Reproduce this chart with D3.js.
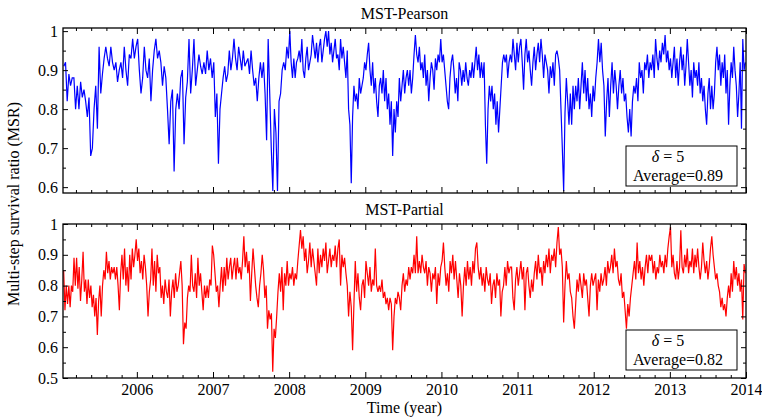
<!DOCTYPE html>
<html>
<head>
<meta charset="utf-8">
<script src="https://cdn.jsdelivr.net/npm/d3@7"></script>
<style>
  body { margin: 0; background: #fff; }
</style>
</head>
<body>
<svg id="chart"></svg>
<script>
// 1. Data (one array per calendar year)
const years = [2005, 2006, 2007, 2008, 2009, 2010, 2011, 2012, 2013];
const xStart = 2005.03;
const xEnd = 2014;
const yearTicks = [2006, 2007, 2008, 2009, 2010, 2011, 2012, 2013, 2014];

// 1.1. MST-Pearson
const pearson2005 = [0.91,0.92,0.82,0.89,0.86,0.88,0.88,0.80,0.86,0.80,0.87,0.83,0.85,0.82,0.78,0.83,0.68,0.70,0.80,0.86,0.75,0.96,0.84,0.89,0.93,0.96,0.93,0.91,0.96,0.92,0.90,0.92,0.87,0.90,0.92,0.88,0.96,0.90,0.86,0.94,0.93,0.98,0.93,0.96];
const pearson2006 = [0.98,0.90,0.84,0.88,0.96,0.90,0.88,0.93,0.82,0.90,0.95,0.98,0.93,0.95,0.92,0.86,0.91,0.88,0.80,0.71,0.82,0.85,0.64,0.80,0.84,0.80,0.88,0.90,0.71,0.83,0.87,0.98,0.84,0.90,0.98,0.86,0.90,0.94,0.91,0.89,0.92,0.89,0.95,0.90,0.93,0.88];
const pearson2007 = [0.92,0.78,0.84,0.66,0.80,0.84,0.88,0.91,0.87,0.89,0.95,0.90,0.93,0.98,0.93,0.90,0.96,0.93,0.90,0.95,0.91,0.92,0.93,0.89,0.95,0.90,0.86,0.88,0.82,0.88,0.92,0.88,0.92,0.84,0.72,0.98,0.84,0.70,0.59,0.80,0.74,0.59,0.82,0.84,0.90,0.92,0.90,0.96,0.93];
const pearson2008 = [1.00,0.92,0.88,0.93,0.88,0.92,0.93,0.95,0.92,0.98,0.90,0.88,0.93,0.96,0.90,0.92,0.94,0.99,0.96,0.93,0.97,0.92,0.96,0.98,0.92,0.95,0.98,1.00,0.96,1.00,0.94,0.97,0.92,0.95,0.98,0.93,0.94,0.90,0.98,0.93,0.96,0.92,0.88,0.95,0.80,0.76,0.61,0.78,0.86,0.82,0.84,0.80,0.88,0.84,0.86,0.88,0.92];
const pearson2009 = [0.90,0.94,0.97,0.90,0.86,0.92,0.84,0.88,0.82,0.78,0.86,0.88,0.84,0.90,0.82,0.88,0.80,0.84,0.76,0.82,0.68,0.80,0.74,0.82,0.78,0.88,0.82,0.86,0.90,0.84,0.88,0.90,0.86,0.90,0.84,0.88,0.94,0.99,0.94,0.92,0.96,0.90,0.92,0.88,0.94,0.86,0.90,0.82,0.88,0.92,0.90,0.85,0.93,0.90,0.94,0.92,0.98];
const pearson2010 = [0.92,0.94,0.90,0.86,0.82,0.80,0.88,0.92,0.94,0.90,0.84,0.88,0.82,0.92,0.90,0.86,0.90,0.87,0.92,0.88,0.86,0.90,0.88,0.92,0.88,0.92,0.96,0.90,0.94,0.88,0.92,0.88,0.92,0.76,0.66,0.80,0.86,0.82,0.86,0.80,0.84,0.76,0.82,0.74,0.80,0.86,0.92,0.94,0.92,0.94,0.88,0.92,0.94,0.92,0.98,0.94,0.90,0.97];
const pearson2011 = [0.92,0.96,0.98,0.92,0.85,0.94,0.98,0.92,0.95,0.90,0.86,0.92,0.96,0.90,0.94,0.97,0.92,0.98,0.94,0.88,0.94,0.92,0.90,0.84,0.91,0.88,0.92,0.86,0.94,0.95,0.93,0.90,0.80,0.70,0.59,0.79,0.88,0.82,0.76,0.84,0.76,0.86,0.80,0.86,0.82,0.88,0.80,0.86,0.92,0.84,0.90,0.82,0.88,0.80,0.84,0.78,0.86];
const pearson2012 = [0.82,0.88,0.92,0.98,0.92,0.97,0.90,0.86,0.73,0.82,0.88,0.78,0.86,0.92,0.84,0.90,0.86,0.80,0.86,0.90,0.84,0.88,0.82,0.84,0.78,0.74,0.80,0.73,0.82,0.86,0.84,0.88,0.82,0.92,0.88,0.90,0.84,0.92,0.90,0.94,0.88,0.92,0.90,0.94,0.88,0.98,0.93,0.90,0.95,0.92,0.97,0.94,0.99,0.92,0.95,0.90];
const pearson2013 = [0.93,0.88,0.92,0.96,0.88,0.93,0.86,0.92,0.96,0.90,0.94,0.86,0.91,0.98,0.92,0.86,0.90,0.83,0.92,0.88,0.90,0.86,0.92,0.84,0.88,0.82,0.86,0.80,0.76,0.84,0.88,0.80,0.86,0.80,0.84,0.92,0.96,0.90,0.94,0.86,0.92,0.88,0.94,0.84,0.90,0.76,0.86,0.92,0.88,0.96,0.90,0.86,0.78,0.84,0.92,0.75,0.98,0.90,0.92];

// 1.2. MST-Partial
const partial2005 = [0.85,0.72,0.80,0.74,0.80,0.73,0.80,0.78,0.89,0.80,0.89,0.79,0.86,0.75,0.82,0.91,0.78,0.82,0.74,0.82,0.76,0.80,0.73,0.77,0.70,0.76,0.64,0.75,0.80,0.70,0.80,0.85,0.82,0.91,0.84,0.88,0.82,0.86,0.84,0.86,0.82,0.86,0.80,0.72,0.84,0.90,0.82,0.92,0.80,0.86,0.78,0.90,0.82,0.92,0.86,0.90,0.95];
const partial2006 = [0.88,0.92,0.84,0.88,0.82,0.90,0.86,0.80,0.70,0.78,0.82,0.92,0.80,0.88,0.78,0.90,0.84,0.86,0.76,0.80,0.74,0.82,0.78,0.76,0.82,0.70,0.78,0.82,0.76,0.84,0.78,0.80,0.84,0.88,0.80,0.61,0.68,0.66,0.76,0.80,0.78,0.90,0.80,0.78,0.84,0.76,0.89,0.80,0.84,0.78,0.72,0.80,0.76,0.80,0.76,0.82,0.80,0.93];
const partial2007 = [0.90,0.84,0.78,0.80,0.73,0.80,0.86,0.78,0.86,0.80,0.89,0.82,0.86,0.89,0.82,0.86,0.89,0.82,0.89,0.84,0.86,0.82,0.88,0.96,0.86,0.91,0.84,0.88,0.75,0.84,0.92,0.86,0.80,0.76,0.73,0.80,0.84,0.90,0.85,0.76,0.80,0.66,0.72,0.69,0.71,0.52,0.66,0.63,0.70,0.78,0.84,0.78,0.86,0.72,0.84,0.80,0.88,0.80];
const partial2008 = [0.84,0.82,0.86,0.80,0.84,0.82,0.88,0.93,0.98,0.92,0.96,0.88,0.92,0.84,0.88,0.94,0.86,0.92,0.88,0.84,0.80,0.92,0.84,0.90,0.86,0.92,0.88,0.94,0.84,0.88,0.92,0.86,0.90,0.88,0.93,0.86,0.92,0.95,0.80,0.90,0.86,0.89,0.84,0.80,0.70,0.78,0.73,0.59,0.74,0.88,0.78,0.84,0.76,0.72,0.80,0.82,0.76];
const partial2009 = [0.88,0.84,0.80,0.86,0.78,0.82,0.80,0.92,0.80,0.78,0.80,0.78,0.82,0.76,0.78,0.74,0.76,0.72,0.76,0.74,0.59,0.70,0.76,0.74,0.78,0.76,0.72,0.80,0.84,0.78,0.82,0.80,0.86,0.82,0.86,0.84,0.90,0.84,0.96,0.84,0.88,0.84,0.90,0.86,0.84,0.88,0.80,0.86,0.84,0.78,0.84,0.82,0.86,0.74,0.84,0.80,0.86];
const partial2010 = [0.88,0.94,0.86,0.80,0.84,0.78,0.88,0.84,0.90,0.82,0.88,0.82,0.76,0.84,0.80,0.70,0.80,0.86,0.80,0.88,0.82,0.86,0.80,0.88,0.84,0.92,0.94,0.86,0.82,0.86,0.80,0.84,0.78,0.86,0.82,0.80,0.84,0.74,0.80,0.82,0.76,0.84,0.80,0.82,0.70,0.78,0.80,0.86,0.80,0.88,0.84,0.86,0.86,0.76,0.72,0.82,0.86];
const partial2011 = [0.80,0.84,0.88,0.82,0.86,0.72,0.84,0.86,0.80,0.76,0.82,0.78,0.84,0.88,0.82,0.90,0.84,0.86,0.80,0.88,0.84,0.90,0.86,0.92,0.84,0.90,0.88,0.92,0.86,0.94,0.99,0.90,0.92,0.86,0.68,0.80,0.88,0.82,0.84,0.78,0.76,0.70,0.66,0.74,0.82,0.78,0.84,0.80,0.76,0.84,0.80,0.82,0.76,0.70,0.80,0.84,0.80];
const partial2012 = [0.82,0.84,0.72,0.82,0.78,0.84,0.80,0.82,0.86,0.80,0.88,0.84,0.86,0.90,0.84,0.92,0.86,0.88,0.82,0.80,0.84,0.76,0.78,0.72,0.66,0.74,0.70,0.76,0.80,0.84,0.88,0.82,0.94,0.84,0.88,0.82,0.86,0.80,0.86,0.90,0.84,0.90,0.88,0.90,0.84,0.88,0.82,0.86,0.84,0.90,0.86,0.88,0.84,0.90,0.86,0.92,0.96];
const partial2013 = [0.99,0.86,0.90,0.84,0.82,0.88,0.82,0.86,0.98,0.86,0.84,0.90,0.86,0.92,0.84,0.88,0.86,0.92,0.84,0.90,0.86,0.92,0.86,0.82,0.86,0.94,0.88,0.84,0.88,0.82,0.86,0.92,0.96,0.90,0.86,0.82,0.84,0.80,0.78,0.73,0.76,0.72,0.74,0.70,0.76,0.80,0.76,0.84,0.78,0.88,0.82,0.86,0.80,0.84,0.78,0.82,0.69,0.87,0.84];

const pearsonByYear = [pearson2005, pearson2006, pearson2007, pearson2008, pearson2009, pearson2010, pearson2011, pearson2012, pearson2013];
const partialByYear = [partial2005, partial2006, partial2007, partial2008, partial2009, partial2010, partial2011, partial2012, partial2013];

// 2. SVG setup
const FONT = "'Liberation Serif', 'DejaVu Serif', serif";
const W = 762, H = 420;
const svg = d3.select("#chart").attr("width", W).attr("height", H);
const left = 63, right = 746;

const x = d3.scaleLinear().domain([xStart, xEnd]).range([left, right]);

// spread each year's values evenly over that year
function toPoints(byYear) {
  const pts = [];
  byYear.forEach((vals, k) => {
    const t0 = Math.max(years[k], xStart);
    const t1 = years[k] + 1;
    vals.forEach((v, i) => {
      pts.push({ t: t0 + ((i + 0.5) / vals.length) * (t1 - t0), v: v });
    });
  });
  return pts;
}

// 3. Panel draw function
function drawPanel(opt) {
  const y = d3.scaleLinear().domain(opt.yDomain).range([opt.bottom, opt.top]);
  const g = svg.append("g");

  g.append("clipPath").attr("id", opt.id + "-clip")
    .append("rect")
    .attr("x", left).attr("y", opt.top)
    .attr("width", right - left).attr("height", opt.bottom - opt.top);

  // 3.1. Series line
  const line = d3.line().x((d) => x(d.t)).y((d) => y(d.v));
  g.append("path")
    .datum(toPoints(opt.data))
    .attr("clip-path", `url(#${opt.id}-clip)`)
    .attr("fill", "none")
    .attr("stroke", opt.color)
    .attr("stroke-width", 1.2)
    .attr("d", line);

  // 3.2. Axes: inward ticks on all four sides
  const minorX = d3.range(2005.2, 2014.01, 0.2).filter((t) => Math.abs(t - Math.round(t)) > 0.01);
  const minorY = d3.range(0.55, 1.0, 0.1).filter((v) => v > opt.yDomain[0]);

  const xb = g.append("g").attr("transform", `translate(0,${opt.bottom})`)
    .call(d3.axisBottom(x).tickValues(yearTicks).tickSizeInner(-6).tickSizeOuter(0).tickPadding(6)
      .tickFormat(opt.showX ? d3.format("d") : () => ""));
  const xbm = g.append("g").attr("transform", `translate(0,${opt.bottom})`)
    .call(d3.axisBottom(x).tickValues(minorX).tickSize(-3).tickFormat(() => ""));
  const xt = g.append("g").attr("transform", `translate(0,${opt.top})`)
    .call(d3.axisTop(x).tickValues(yearTicks).tickSizeInner(-6).tickSizeOuter(0).tickFormat(() => ""));
  const xtm = g.append("g").attr("transform", `translate(0,${opt.top})`)
    .call(d3.axisTop(x).tickValues(minorX).tickSize(-3).tickFormat(() => ""));

  const yl = g.append("g").attr("transform", `translate(${left},0)`)
    .call(d3.axisLeft(y).tickValues(opt.yTicks).tickSizeInner(-5).tickSizeOuter(0).tickPadding(5)
      .tickFormat((d) => (d === 1 ? "1" : d3.format(".1f")(d))));
  const ylm = g.append("g").attr("transform", `translate(${left},0)`)
    .call(d3.axisLeft(y).tickValues(minorY).tickSize(-3).tickFormat(() => ""));
  const yr = g.append("g").attr("transform", `translate(${right},0)`)
    .call(d3.axisRight(y).tickValues(opt.yTicks).tickSizeInner(-5).tickSizeOuter(0).tickFormat(() => ""));
  const yrm = g.append("g").attr("transform", `translate(${right},0)`)
    .call(d3.axisRight(y).tickValues(minorY).tickSize(-3).tickFormat(() => ""));

  [xb, xbm, xt, xtm, yl, ylm, yr, yrm].forEach((a) => {
    a.select(".domain").remove();
    a.selectAll("line").attr("stroke", "#000").attr("stroke-width", 1);
    a.selectAll("text").attr("font-size", 16).style("font-family", FONT).attr("fill", "#000");
  });

  // 3.3. Frame
  g.append("rect")
    .attr("x", left).attr("y", opt.top)
    .attr("width", right - left).attr("height", opt.bottom - opt.top)
    .attr("fill", "none").attr("stroke", "#000").attr("stroke-width", 1.3);

  // 3.4. Title
  g.append("text")
    .attr("x", (left + right) / 2).attr("y", opt.top - 9)
    .attr("text-anchor", "middle").attr("font-size", 16)
    .style("font-family", FONT)
    .text(opt.title);

  // 3.5. Legend box
  const lg = g.append("g").attr("transform", `translate(626,${opt.boxTop})`);
  lg.append("rect").attr("width", 111).attr("height", 40)
    .attr("fill", "#fff").attr("stroke", "#000").attr("stroke-width", 1);
  const t1 = lg.append("text").attr("x", 42).attr("y", 16).attr("text-anchor", "middle")
    .attr("font-size", 16).style("font-family", FONT);
  t1.append("tspan").attr("font-style", "italic").text("δ");
  t1.append("tspan").text(" = 5");
  lg.append("text").attr("x", 7).attr("y", 35).attr("font-size", 16)
    .style("font-family", FONT)
    .text("Average=" + opt.average);
}

drawPanel({
  id: "pearson", data: pearsonByYear, color: "#0000ff",
  top: 28, bottom: 193, yDomain: [0.585, 1.008], yTicks: [0.6, 0.7, 0.8, 0.9, 1],
  title: "MST-Pearson", boxTop: 146, average: "0.89", showX: false
});

drawPanel({
  id: "partial", data: partialByYear, color: "#ff0000",
  top: 224, bottom: 378, yDomain: [0.5, 1], yTicks: [0.5, 0.6, 0.7, 0.8, 0.9, 1],
  title: "MST-Partial", boxTop: 330, average: "0.82", showX: true
});

// 4. Shared axis labels
svg.append("text")
  .attr("x", (left + right) / 2).attr("y", 413)
  .attr("text-anchor", "middle").attr("font-size", 16)
  .style("font-family", FONT)
  .text("Time (year)");

svg.append("text")
  .attr("transform", "rotate(-90)")
  .attr("x", -204).attr("y", 19)
  .attr("text-anchor", "middle").attr("font-size", 16)
  .style("font-family", FONT)
  .text("Multi-step survival ratio (MSR)");
</script>
</body>
</html>
